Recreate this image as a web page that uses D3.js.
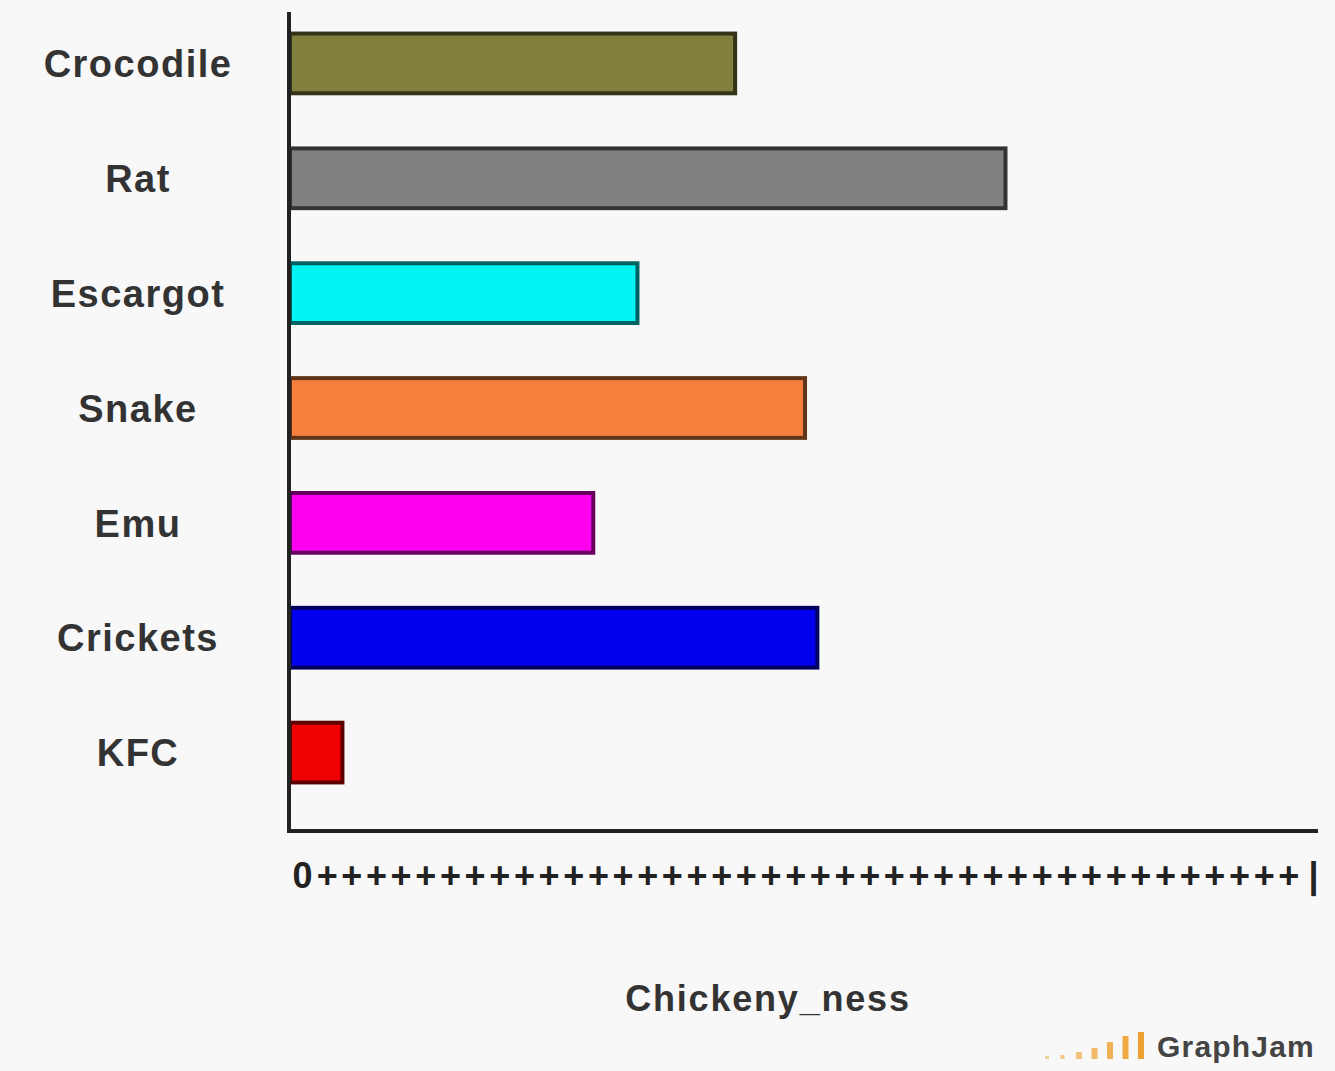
<!DOCTYPE html>
<html>
<head>
<meta charset="utf-8">
<script src="https://cdn.jsdelivr.net/npm/d3@7"></script>
<style>
  body { margin: 0; background: #f8f8f8; }
  svg { display: block; }
</style>
</head>
<body>
<script>
var width = 1335;
var height = 1071;

var foods = ["Crocodile", "Rat", "Escargot", "Snake", "Emu", "Crickets", "KFC"];
var chickenyness = [43.3, 69.6, 33.8, 50.1, 29.5, 51.3, 5.1];
var colors = ["#80803c", "#808080", "#00f4f4", "#f5803e", "#ff00ee", "#0000ee", "#f00000"];
var tickText = "0++++++++++++++++++++++++++++++++++++++++|";
var tickLabels = tickText.split("");
var logoBars = [3, 4, 7, 11, 17, 23, 27];

var svg = d3.select("body").append("svg")
    .attr("width", width)
    .attr("height", height);

svg.append("rect")
    .attr("width", width)
    .attr("height", height)
    .attr("fill", "#f8f8f8");

var data = foods.map(function (food, index) {
    return { Food: food, Value: chickenyness[index], Color: colors[index] };
});

var xScale = d3.scaleLinear().domain([0, 100]).range([290, 1318]);
var yScale = d3.scaleBand().domain(foods).range([6, 810])
    .paddingInner(0.48).paddingOuter(0.24);

// bars, outline is a darker shade of the fill
svg.selectAll("rect.bar")
    .data(data)
    .enter().append("rect")
    .attr("class", "bar")
    .attr("x", xScale(0))
    .attr("y", d => yScale(d.Food))
    .attr("width", d => xScale(d.Value) - xScale(0))
    .attr("height", yScale.bandwidth())
    .attr("fill", d => d.Color)
    .attr("stroke", d => d3.color(d.Color).darker(2.6))
    .attr("stroke-width", 4);

// axis lines
svg.append("line")
    .attr("x1", 289).attr("x2", 289)
    .attr("y1", 12).attr("y2", 832)
    .attr("stroke", "#222").attr("stroke-width", 4);

svg.append("line")
    .attr("x1", 287).attr("x2", xScale(100))
    .attr("y1", 831).attr("y2", 831)
    .attr("stroke", "#222").attr("stroke-width", 4);

// category labels
svg.selectAll("text.cat")
    .data(data)
    .enter().append("text")
    .attr("class", "cat")
    .attr("x", 138)
    .attr("y", d => yScale(d.Food) + yScale.bandwidth() / 2)
    .attr("dy", "0.36em")
    .attr("text-anchor", "middle")
    .attr("font-family", "Liberation Sans, Arial, sans-serif")
    .attr("font-weight", "bold")
    .attr("font-size", 38)
    .attr("letter-spacing", 1.5)
    .attr("fill", "#333")
    .text(d => d.Food);

// x tick labels: 0 ++++ |
var tickScale = d3.scalePoint()
    .domain(d3.range(tickLabels.length))
    .range([302, 1313]);

var xAxis = d3.axisBottom(tickScale)
    .tickSize(0)
    .tickPadding(0)
    .tickFormat(i => tickLabels[i]);

var axisG = svg.append("g")
    .attr("transform", "translate(0,862)")
    .call(xAxis);

axisG.select(".domain").remove();
axisG.selectAll("text")
    .attr("font-family", "Liberation Sans, Arial, sans-serif")
    .attr("font-weight", "bold")
    .attr("font-size", 36)
    .attr("fill", "#222");

// axis title
svg.append("text")
    .attr("x", 768)
    .attr("y", 1011)
    .attr("text-anchor", "middle")
    .attr("font-family", "Liberation Sans, Arial, sans-serif")
    .attr("font-weight", "bold")
    .attr("font-size", 36)
    .attr("letter-spacing", 1.8)
    .attr("fill", "#333")
    .text("Chickeny_ness");

// GraphJam logo
var logo = svg.append("g").attr("transform", "translate(1045,1059)");
logo.selectAll("rect")
    .data(logoBars)
    .enter().append("rect")
    .attr("x", (d, i) => i * 15.5)
    .attr("y", d => -d)
    .attr("width", (d, i) => i < 2 ? 4 : 6)
    .attr("height", d => d)
    .attr("fill", "#eea030")
    .attr("opacity", (d, i) => 0.45 + i * 0.09);

svg.append("text")
    .attr("x", 1157)
    .attr("y", 1057)
    .attr("font-family", "Liberation Sans, Arial, sans-serif")
    .attr("font-weight", "bold")
    .attr("font-size", 30)
    .attr("letter-spacing", 1.2)
    .attr("fill", "#444")
    .text("GraphJam");
</script>
</body>
</html>
